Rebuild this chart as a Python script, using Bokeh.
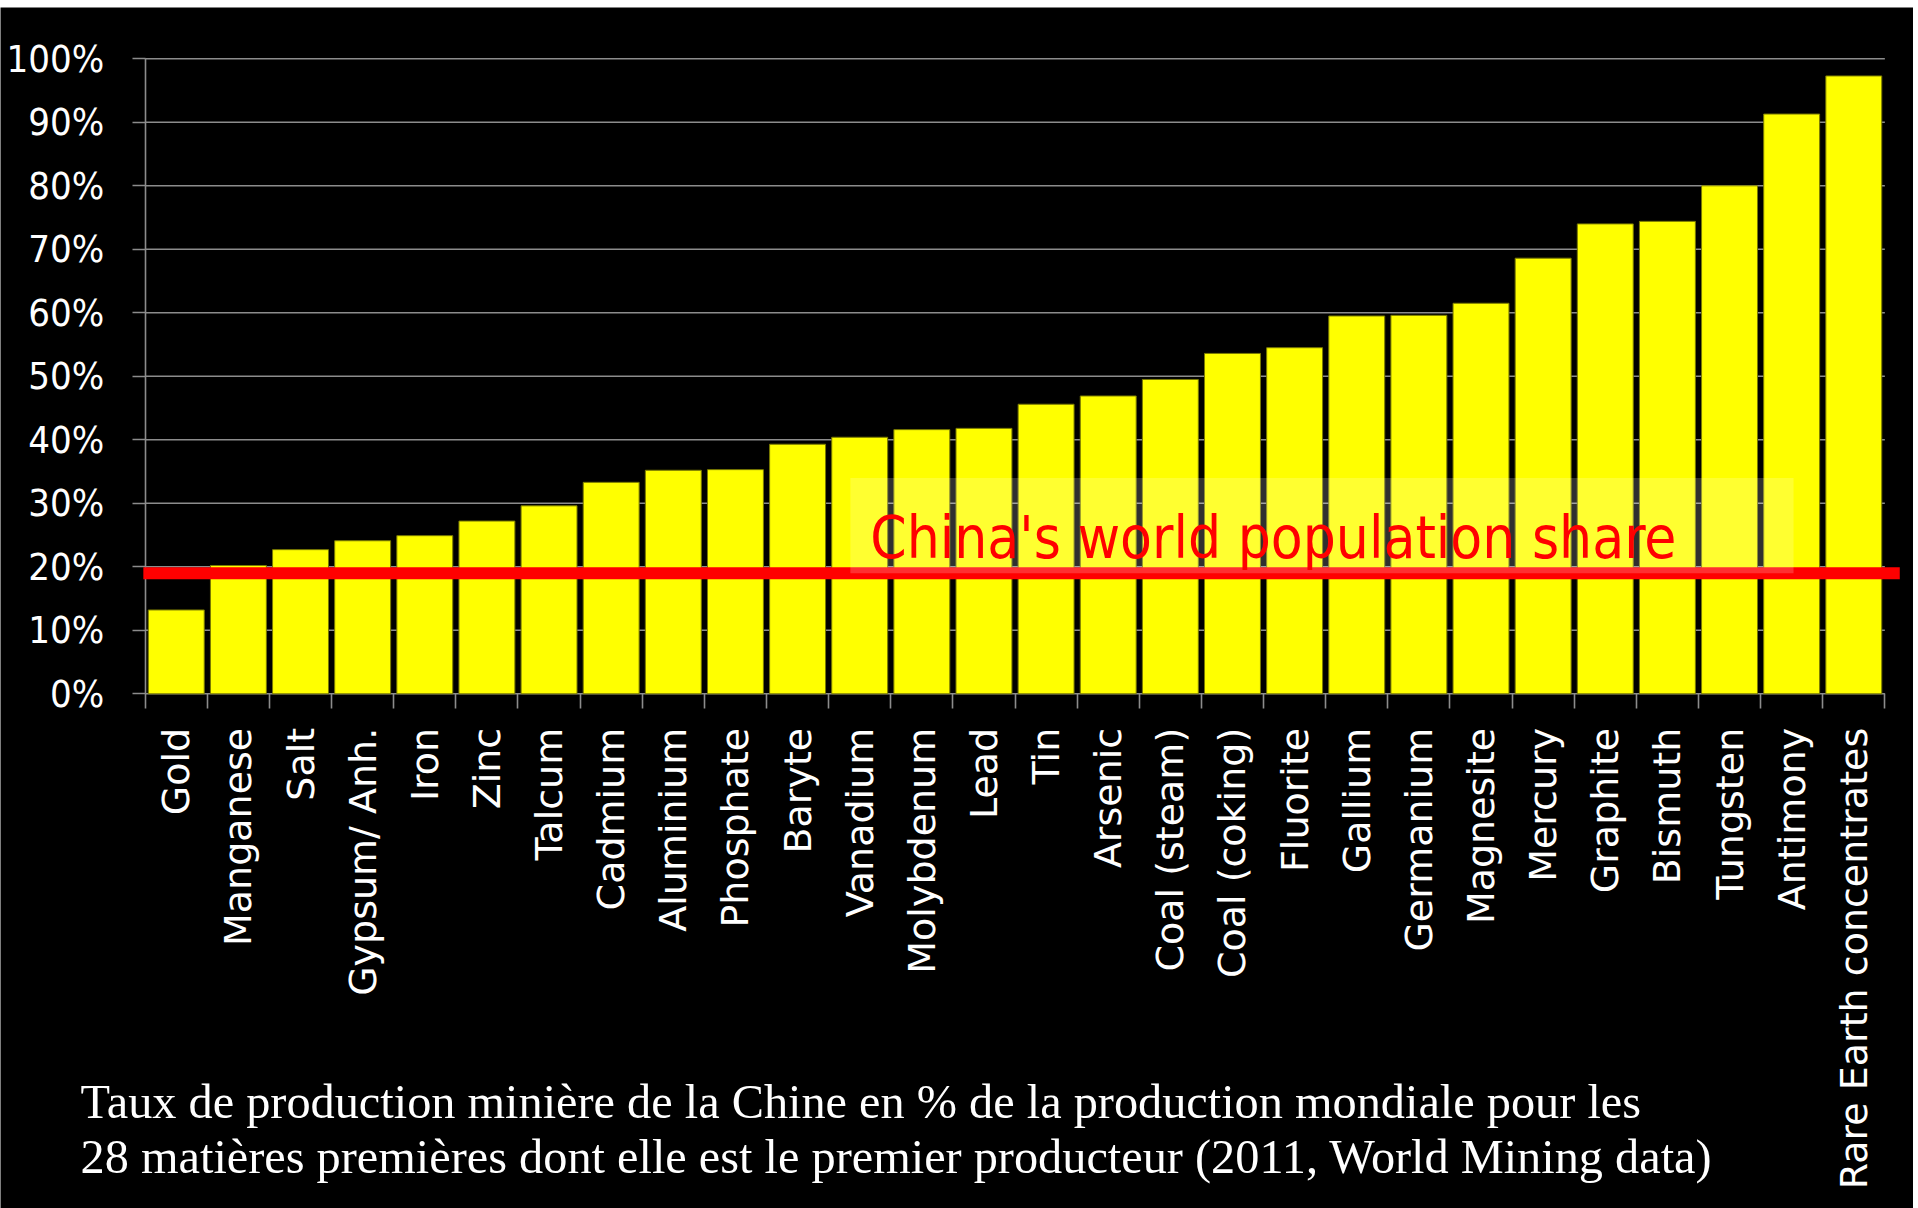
from bokeh.plotting import figure
from bokeh.models import FixedTicker, BoxAnnotation, Label, ColumnDataSource
from bokeh.embed import file_html
from bokeh.resources import INLINE
import math

# ---------------- data ----------------
categories = ["Gold", "Manganese", "Salt", "Gypsum/ Anh.", "Iron", "Zinc", "Talcum",
              "Cadmium", "Aluminium", "Phosphate", "Baryte", "Vanadium", "Molybdenum",
              "Lead", "Tin", "Arsenic", "Coal (steam)", "Coal (coking)", "Fluorite",
              "Gallium", "Germanium", "Magnesite", "Mercury", "Graphite", "Bismuth",
              "Tungsten", "Antimony", "Rare Earth concentrates"]
shares = [13.2, 20.2, 22.7, 24.1, 24.9, 27.2, 29.6, 33.3, 35.2, 35.3, 39.3, 40.4, 41.6,
          41.8, 45.6, 46.9, 49.5, 53.6, 54.5, 59.5, 59.6, 61.5, 68.6, 74.0, 74.4, 80.0,
          91.3, 97.3]
population_share = 19.0
y_ticks = [0, 10, 20, 30, 40, 50, 60, 70, 80, 90, 100]
y_tick_labels = ["0%", "10%", "20%", "30%", "40%", "50%", "60%", "70%", "80%", "90%", "100%"]
annotation_text = "China's  world population share"
caption_line1 = "Taux de production minière  de la Chine en % de la production mondiale pour les"
caption_line2 = "28 matières premières dont elle est le premier producteur  (2011, World Mining data)"

n = len(categories)
centers = [i + 0.5 for i in range(n)]
boundaries = list(range(n + 1))

NARROW = "DejaVu Sans Condensed"
GRID = "#8c8c8c"

# the frame covers the whole canvas; axes are pinned at x=0 / y=0
p = figure(width=1913, height=1201, x_range=(-2.329, 28.461), y_range=(-81.06, 108.08),
           output_backend="svg", toolbar_location=None,
           min_border_left=0, min_border_right=0, min_border_top=0, min_border_bottom=0,
           background_fill_color="black", border_fill_color="black",
           outline_line_color=None, margin=(7, 0, 0, 0))

p.xgrid.visible = False
p.ygrid.visible = False

# gridlines (from the y ticks), drawn behind the bars
grid_src = ColumnDataSource(dict(x0=[0] * len(y_ticks), x1=[n] * len(y_ticks), y=y_ticks))
p.segment(x0="x0", x1="x1", y0="y", y1="y", source=grid_src, line_color=GRID, line_width=1.6)

src = ColumnDataSource(dict(x=centers, top=shares, name=categories))
p.vbar(x="x", top="top", width=0.9, source=src, fill_color="#FFFF00",
       line_color="#7a7a00", line_width=1)

# x axis: labels at centers, tick marks at category boundaries
xa = p.xaxis[0]
xa.fixed_location = 0
xa.ticker = FixedTicker(ticks=centers, minor_ticks=boundaries)
xa.major_label_overrides = {c: name for c, name in zip(centers, categories)}
xa.major_label_orientation = math.pi / 2
xa.major_label_text_font = "DejaVu Sans"
xa.major_label_text_font_size = "38px"
xa.major_label_text_color = "white"
xa.major_tick_line_color = None
xa.major_tick_out = 15
xa.major_tick_in = 0
xa.minor_tick_line_color = GRID
xa.minor_tick_line_width = 1.6
xa.minor_tick_out = 15
xa.minor_tick_in = 0
xa.axis_line_color = None
xa.major_label_standoff = 19

ya = p.yaxis[0]
ya.fixed_location = 0
ya.ticker = FixedTicker(ticks=y_ticks)
ya.major_label_overrides = {t: l for t, l in zip(y_ticks, y_tick_labels)}
ya.major_label_text_font = NARROW
ya.major_label_text_font_size = "38px"
ya.major_label_text_color = "white"
ya.major_tick_line_color = GRID
ya.major_tick_line_width = 1.6
ya.major_tick_out = 13
ya.major_tick_in = 0
ya.minor_tick_line_color = None
ya.axis_line_color = GRID
ya.axis_line_width = 1.6
ya.bounds = (0, 100)
ya.major_label_standoff = 28

# annotation box, population-share line and its label
p.add_layout(BoxAnnotation(left=11.35, right=26.53, bottom=population_share, top=34.0,
                           fill_color="white", fill_alpha=0.19, line_color=None))
p.segment(x0=[-0.03], x1=[n + 0.24], y0=[population_share], y1=[population_share],
          line_color="#FF0000", line_width=12, level="annotation")
p.add_layout(Label(x=11.67, y=24.5, text=annotation_text, text_color="#FF0000",
                   text_font=NARROW, text_font_size="58px", text_baseline="alphabetic"))

# caption
p.add_layout(Label(x=-1.04, y=-64.2, text=caption_line1, text_color="white",
                   text_font="Liberation Serif", text_font_size="48.3px",
                   text_baseline="alphabetic"))
p.add_layout(Label(x=-1.04, y=-72.85, text=caption_line2, text_color="white",
                   text_font="Liberation Serif", text_font_size="48.3px",
                   text_baseline="alphabetic"))

open("out.html", "w").write(file_html(p, INLINE))
